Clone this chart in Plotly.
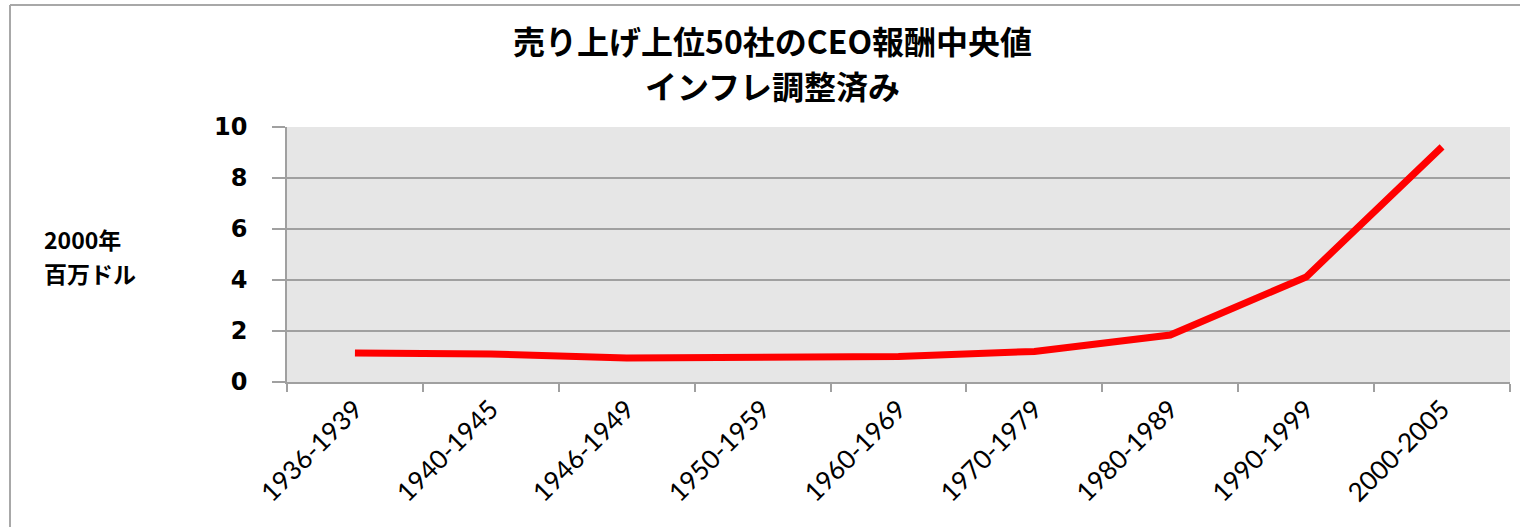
import plotly.graph_objects as go

categories = ["1936-1939", "1940-1945", "1946-1949", "1950-1959", "1960-1969",
              "1970-1979", "1980-1989", "1990-1999", "2000-2005"]
values = [1.14, 1.1, 0.94, 1.0, 1.0, 1.2, 1.84, 4.12, 9.22]
y_ticks = [0, 2, 4, 6, 8, 10]
title_lines = ["売り上げ上位50社のCEO報酬中央値", "インフレ調整済み"]
ytitle_lines = ["2000年", "百万ドル"]

W, H = 1520, 527
L, R, T, B = 287, 10, 127, 145
pw = W - L - R
ph = H - T - B


def px(x):
    return (x - L) / pw


def py(y):
    return (H - B - y) / ph


fig = go.Figure()
fig.add_trace(go.Scatter(
    x=categories, y=values, mode="lines",
    line=dict(color="#ff0000", width=7),
    showlegend=False, hoverinfo="x+y",
))

jp = "Noto Sans CJK JP"
annotations = []
for text, yc in zip(title_lines, [40, 85]):
    annotations.append(dict(
        text=f"<b>{text}</b>", xref="paper", yref="paper",
        x=px(772), y=py(yc), xanchor="center", yanchor="middle",
        showarrow=False, font=dict(family=jp, size=32, color="#000000"),
    ))
for text, yc in zip(ytitle_lines, [239, 273]):
    annotations.append(dict(
        text=f"<b>{text}</b>", xref="paper", yref="paper",
        x=px(42), y=py(yc), xanchor="left", yanchor="middle",
        showarrow=False, font=dict(family=jp, size=23, color="#000000"),
    ))

fig.update_layout(
    width=W, height=H,
    margin=dict(l=L, r=R, t=T, b=B),
    paper_bgcolor="white",
    plot_bgcolor="#e6e6e6",
    xaxis=dict(
        type="category",
        range=[-0.5, len(categories) - 0.5],
        tickson="boundaries",
        ticks="outside", ticklen=8, tickcolor="#a0a0a0", tickwidth=1.5,
        showline=True, linecolor="#a0a0a0", linewidth=1.5,
        showgrid=False,
        tickangle=-45,
        tickfont=dict(family="Lato, Liberation Sans, sans-serif", size=26, color="#000000"),
        fixedrange=True,
    ),
    yaxis=dict(
        range=[0, 10],
        tickvals=y_ticks,
        ticktext=[f"<b>{v}</b>" for v in y_ticks],
        ticks="outside", ticklen=13, tickcolor="#a0a0a0", tickwidth=1.5,
        showline=True, linecolor="#a0a0a0", linewidth=1.5,
        showgrid=True, gridcolor="#a0a0a0", gridwidth=1.5,
        zeroline=False,
        tickfont=dict(family="DejaVu Sans", size=24, color="#000000"),
        ticklabelstandoff=20,
        fixedrange=True,
    ),
    annotations=annotations,
    shapes=[
        dict(type="line", xref="paper", yref="paper",
             x0=px(10), x1=px(W), y0=py(5), y1=py(5),
             line=dict(color="#a8a8a8", width=2)),
        dict(type="line", xref="paper", yref="paper",
             x0=px(10), x1=px(10), y0=py(5), y1=py(H),
             line=dict(color="#a8a8a8", width=2)),
    ],
)

fig.write_html("out.html", config={"displayModeBar": False},
               post_script="document.body.style.margin='0';")
